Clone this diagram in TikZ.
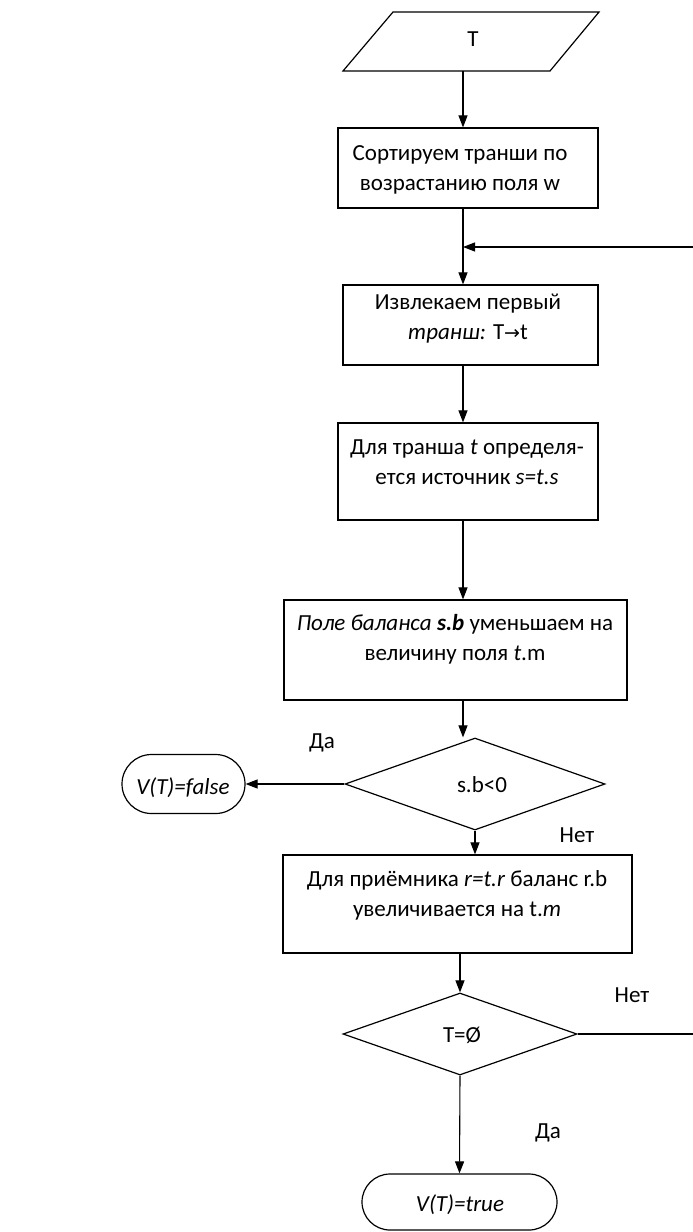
\documentclass[tikz,border=0pt]{standalone}
\usepackage{fontspec}
\setmainfont{Carlito}
\newfontfamily\symf{DejaVu Sans}
\usetikzlibrary{shapes.geometric,shapes.misc,arrows.meta}
\begin{document}
\begin{tikzpicture}[x=1pt,y=-1pt,
  every node/.style={font=\fontsize{23}{30}\selectfont},
  box/.style={draw, line width=1.2pt, rectangle, inner sep=0pt},
  txt/.style={align=center, inner sep=0pt},
  dec/.style={draw, diamond, line width=1.2pt, inner sep=0pt},
  term/.style={draw, rounded rectangle, line width=1.2pt, inner sep=0pt},
  arr/.style={-{Triangle[length=12pt,width=9pt]}, line width=1.1pt},
  ln/.style={line width=1.1pt}]
\useasboundingbox (0,0) rectangle (693,1232);
\coordinate (spine) at (463,0);

% input parallelogram
\draw[line width=1.2pt] (393,12) -- (599,12) -- (550,71) -- (343,71) -- cycle;
\node[txt] (part) at (473,39) {T};
\coordinate (parb) at (463,71);

\node[box, minimum width=260pt, minimum height=80pt] (b1) at (468,168) {};
\node[txt] (b1t) at (460,170) {Сортируем транши по\\возрастанию поля w};

\node[box, minimum width=255pt, minimum height=80pt] (b2) at (470.5,325) {};
\node[txt] (b2t) at (468,319) {Извлекаем первый\\\textit{транш:} T{\symf\fontsize{19}{30}\selectfont→}t};

\node[box, minimum width=260pt, minimum height=97pt] (b3) at (468,471.5) {};
\node[txt] (b3t) at (467,462) {Для транша \textit{t} определя-\\ется источник \textit{s=t.s}};

\node[box, minimum width=343pt, minimum height=100pt] (b4) at (455.5,650) {};
\node[txt] (b4t) at (455,639) {\textit{Поле баланса} \textbf{\textit{s.b}} уменьшаем на\\величину поля \textit{t}.m};

\node[dec, minimum width=260pt, minimum height=92pt] (d1) at (475,784) {};
\node[txt] (d1t) at (482,785) {s.b<0};

\node[term, minimum width=123pt, minimum height=59pt] (f) at (183.5,784) {};
\node[txt] (ft) at (183,788) {\textit{V(T)=false}};

\node[box, minimum width=349pt, minimum height=98pt] (b5) at (457.5,904) {};
\node[txt] (b5t) at (457,895) {Для приёмника \textit{r=t.r} баланс r.b\\увеличивается на t.\textit{m}};

\node[dec, minimum width=234pt, minimum height=82pt] (d2) at (460,1034) {};
\node[txt] (d2t) at (462,1035) {T=Ø};

\node[term, minimum width=195pt, minimum height=56pt] (tr) at (459.5,1202) {};
\node[txt] (trt) at (460,1205) {\textit{V(T)=true}};

% labels
\node[txt] (l1) at (322,743) {Да};
\node[txt] (l2) at (577,835) {Нет};
\node[txt] (l3) at (632,995) {Нет};
\node[txt] (l4) at (548,1133) {Да};

% loop ends
\coordinate (loopin) at (693,247);
\coordinate (loopout) at (693,1034);

% connectors
\draw[arr] (parb) -- (b1.north -| spine);
\draw[arr] (b1.south -| spine) -- (b2.north -| spine);
\draw[arr] (loopin) -- (loopin -| spine);
\draw[arr] (b2.south -| spine) -- (b3.north -| spine);
\draw[arr] (b3.south -| spine) -- (b4.north -| spine);
\draw[arr] (b4.south -| spine) -- (d1.north -| spine);
\draw[arr] (d1.west) -- (f.east);
\draw[arr] (d1.south) -- (d1.south |- b5.north);
\draw[arr] (b5.south -| d2.north) -- (d2.north);
\draw[ln] (d2.east) -- (loopout);
\draw[arr] (d2.south) -- (tr.north);
\end{tikzpicture}
\end{document}
